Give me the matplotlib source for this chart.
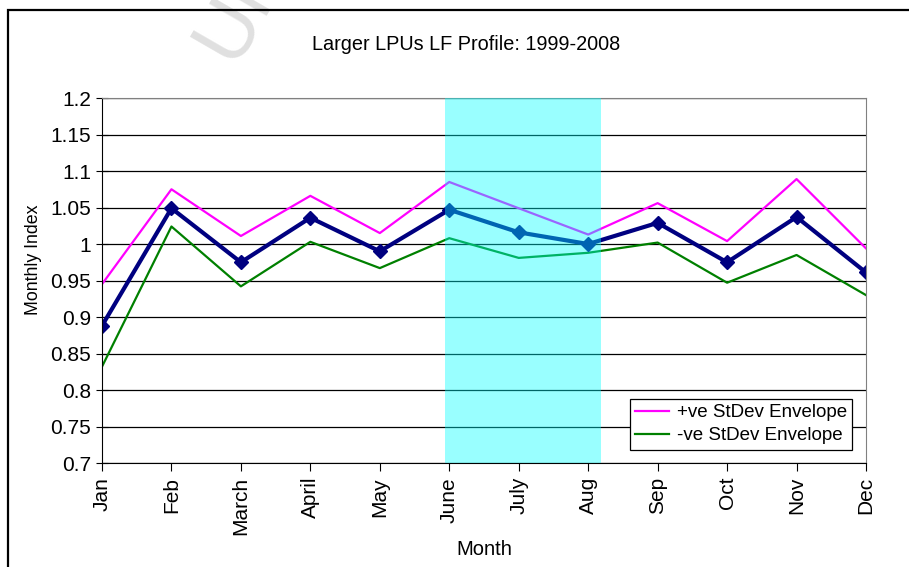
import numpy as np
import matplotlib
matplotlib.use("Agg")
import matplotlib.pyplot as plt
from matplotlib.patches import Rectangle

plt.rcParams['font.family'] = ['Liberation Sans', 'DejaVu Sans']

months = ["Jan", "Feb", "March", "April", "May", "June",
          "July", "Aug", "Sep", "Oct", "Nov", "Dec"]
mean_index = [0.888, 1.049, 0.975, 1.036, 0.990, 1.047,
              1.016, 1.000, 1.029, 0.975, 1.037, 0.961]
plus_sd = [0.945, 1.075, 1.011, 1.066, 1.015, 1.085,
           1.049, 1.013, 1.056, 1.004, 1.089, 0.994]
minus_sd = [0.832, 1.024, 0.942, 1.003, 0.967, 1.008,
            0.981, 0.988, 1.002, 0.947, 0.985, 0.930]
summer_span = (4.94, 7.18)
yticks = np.arange(0.7, 1.2001, 0.05)

fig = plt.figure(figsize=(9.09, 5.67), dpi=100)
ax = fig.add_axes([0.1122, 0.1834, 0.8405, 0.6437])

x = np.arange(len(months))
for yv in yticks:
    ax.axhline(yv, color="black", lw=0.9, zorder=1)

ax.plot(x, plus_sd, color="#FF00FF", lw=1.6, label="+ve StDev Envelope", zorder=2)
ax.plot(x, minus_sd, color="#008000", lw=1.6, label="-ve StDev Envelope", zorder=2)
ax.plot(x, mean_index, color="#000080", lw=3, marker="D", markersize=7,
        zorder=2, label="_nolegend_")

# shaded summer months, semi transparent over the lines
ax.axvspan(*summer_span, facecolor="#00FFFF", alpha=0.40, lw=0, zorder=3)

ax.set_xlim(0, 11)
ax.set_ylim(0.7, 1.2)
ax.set_xticks(x)
ax.set_xticklabels(months, rotation=90, fontsize=15)
ax.set_yticks(yticks)
ax.set_yticklabels(["%g" % round(v, 2) for v in yticks], fontsize=15)
ax.tick_params(axis="x", direction="out", length=6, color="black", pad=4)
ax.tick_params(axis="y", direction="inout", length=8, color="black", pad=4)

ax.spines["top"].set_color("#808080")
ax.spines["right"].set_color("#808080")
ax.spines["left"].set_color("black")
ax.spines["bottom"].set_color("black")

ax.set_xlabel("Month", fontsize=14.5)
ax.xaxis.set_label_coords(0.5, -0.212)
ax.set_ylabel("Monthly Index", fontsize=12.8, va="center")
ax.yaxis.set_label_coords(-0.09, 0.556)
fig.text(466 / 909, 1 - 44 / 567, "Larger LPUs LF Profile: 1999-2008",
         ha="center", va="center", fontsize=14.3)

leg = ax.legend(loc="lower right", bbox_to_anchor=(0.982, 0.036),
                fontsize=13.5, fancybox=False, framealpha=1, edgecolor="black",
                borderaxespad=0, handlelength=1.8, handletextpad=0.4,
                borderpad=0.3, labelspacing=0.3)
leg.get_frame().set_linewidth(0.9)
leg.set_zorder(5)

# outer chart border
fig.patches.append(Rectangle((8 / 909, -0.1), 2, 1 - 10 / 567 + 0.1,
                             transform=fig.transFigure, fill=False,
                             edgecolor="black", lw=1.6))

# watermark
fig.text(0.272, 0.872, "Uncontrolled", rotation=60, rotation_mode="anchor",
         ha="left", va="bottom", fontsize=58, color="#e0e0e0", zorder=0)

fig.savefig("out.png", dpi=100)
